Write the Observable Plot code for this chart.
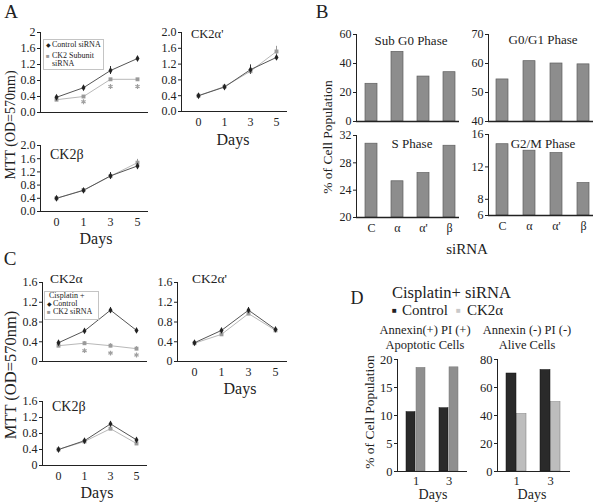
<!DOCTYPE html>
<html>
<head>
<meta charset="utf-8">
<script src="https://cdn.jsdelivr.net/npm/d3@7"></script>
<script src="https://cdn.jsdelivr.net/npm/@observablehq/plot@0.6"></script>
<style>
  html, body { margin: 0; padding: 0; background: #fff; }
  #root { position: relative; width: 600px; height: 504px; background: #fff; overflow: hidden; }
  .lbl { position: absolute; white-space: nowrap; font-family: "Liberation Serif", "Times New Roman", Times, serif; color: #222; line-height: 1; }
  .box { position: absolute; border: 1px solid #c4c4c4; }
</style>
</head>
<body>
<div id="root"></div>
<script>
// ---------- DATA ----------
const days = ["0", "1", "3", "5"];

// Panel A (MTT, siRNA alone)
const aAlphaCtrl     = [0.38, 0.62, 1.05, 1.35];
const aAlphaCtrlErr  = [0.02, 0.03, 0.10, 0.05];
const aAlphaSi       = [0.32, 0.40, 0.83, 0.83];
const aAlphaSiErr    = [0.02, 0.02, 0.02, 0.02];
const aAlphaStars    = [null, 0.27, 0.65, 0.65];
const aAlphaPCtrl    = [0.40, 0.62, 1.06, 1.37];
const aAlphaPCtrlErr = [0.02, 0.03, 0.12, 0.05];
const aAlphaPSi      = [0.40, 0.63, 1.02, 1.52];
const aAlphaPSiErr   = [0.02, 0.03, 0.06, 0.13];
const aBetaCtrl      = [0.40, 0.64, 1.08, 1.38];
const aBetaCtrlErr   = [0.02, 0.03, 0.10, 0.05];
const aBetaSi        = [0.40, 0.65, 1.07, 1.48];
const aBetaSiErr     = [0.02, 0.03, 0.10, 0.10];
const aTicks = [0, 0.4, 0.8, 1.2, 1.6, 2.0];

// Panel B (cell cycle phases)
const phases = ["C", "α", "α'", "β"];
const subG0  = [26, 48, 31, 34];
const g0g1   = [54.5, 60.8, 60.0, 59.7];
const sPhase = [30.8, 25.3, 26.5, 30.5];
const g2m    = [14.8, 14.0, 13.7, 10.0];

// Panel C (MTT, cisplatin + siRNA)
const cAlphaCtrl     = [0.38, 0.62, 1.04, 0.63];
const cAlphaCtrlErr  = [0.02, 0.03, 0.05, 0.03];
const cAlphaSi       = [0.32, 0.37, 0.32, 0.26];
const cAlphaSiErr    = [0.02, 0.03, 0.04, 0.04];
const cAlphaStars    = [null, 0.22, 0.17, 0.13];
const cAlphaPCtrl    = [0.38, 0.63, 1.04, 0.65];
const cAlphaPCtrlErr = [0.02, 0.03, 0.05, 0.03];
const cAlphaPSi      = [0.37, 0.55, 0.97, 0.63];
const cAlphaPSiErr   = [0.02, 0.03, 0.04, 0.03];
const cBetaCtrl      = [0.40, 0.62, 1.04, 0.64];
const cBetaCtrlErr   = [0.02, 0.04, 0.05, 0.03];
const cBetaSi        = [0.40, 0.60, 0.92, 0.55];
const cBetaSiErr     = [0.02, 0.03, 0.03, 0.03];
const cTicks = [0, 0.4, 0.8, 1.2, 1.6];

// Panel D (annexin / PI)
const dDays = ["1", "3"];
const apoptoticCtrl = [10.6, 11.3];
const apoptoticCK2  = [18.5, 18.6];
const aliveCtrl     = [70.0, 72.5];
const aliveCK2      = [41.0, 49.5];

// ---------- HELPERS ----------
const FONT = '"Liberation Serif", "Times New Roman", Times, serif';
const root = document.getElementById("root");

function svgStyle(size) {
  return { fontFamily: FONT, fontSize: size + "px", background: "transparent", overflow: "visible", color: "#222" };
}
function mount(svg, fr, m) {
  svg.style.position = "absolute";
  svg.style.left = (fr.x0 - m.l) + "px";
  svg.style.top = (fr.y0 - m.t) + "px";
  svg.style.maxWidth = "none";
  root.appendChild(svg);
}
function label(text, x, y, size, opt = {}) {
  const el = document.createElement("div");
  el.className = "lbl";
  el.textContent = text;
  el.style.fontSize = size + "px";
  el.style.left = x + "px";
  el.style.top = y + "px";
  if (opt.color) el.style.color = opt.color;
  if (opt.rotate) el.style.transform = "translate(-50%,-50%) rotate(-90deg)";
  else if (opt.anchor === "start") el.style.transform = "translate(0,-50%)";
  else el.style.transform = "translate(-50%,-50%)";
  root.appendChild(el);
}
function box(x, y, w, h) {
  const el = document.createElement("div");
  el.className = "box";
  Object.assign(el.style, { left: x + "px", top: y + "px", width: w + "px", height: h + "px" });
  root.appendChild(el);
}
const series = (vals, errs) => days.map((d, i) => ({ day: d, v: vals[i], e: errs ? errs[i] : 0 }));

function linePanel(cfg) {
  const { fr, ctrl, ctrlErr, si, siErr, stars, yMax, ticks, fmt, showX } = cfg;
  const m = { l: 30, r: 8, t: 8, b: 22 };
  const ctrlData = series(ctrl, ctrlErr);
  const siData = series(si, siErr);
  const starData = stars ? series(stars).filter(d => d.v != null) : [];
  const svg = Plot.plot({
    width: fr.x1 - fr.x0 + m.l + m.r,
    height: fr.y1 - fr.y0 + m.t + m.b,
    marginLeft: m.l, marginRight: m.r, marginTop: m.t, marginBottom: m.b,
    style: svgStyle(12),
    x: { type: "point", domain: days, padding: 0.5, align: 0.6, axis: showX ? "bottom" : null, tickSize: 0, tickPadding: 6, label: null },
    y: { domain: [0, yMax], ticks, tickFormat: fmt, tickSize: 3, tickPadding: 2, line: true, label: null },
    marks: [
      Plot.ruleY([0], { stroke: "#222" }),
      Plot.line(siData, { x: "day", y: "v", stroke: "#b8b8b8", strokeWidth: 1 }),
      Plot.line(ctrlData, { x: "day", y: "v", stroke: "#555", strokeWidth: 1 }),
      Plot.ruleX(siData, { x: "day", y1: d => d.v - d.e, y2: d => d.v + d.e, stroke: "#999" }),
      Plot.ruleX(ctrlData, { x: "day", y1: d => d.v - d.e, y2: d => d.v + d.e, stroke: "#333" }),
      Plot.dot(siData, { x: "day", y: "v", symbol: "square", fill: "#9a9a9a", r: 2.2 }),
      Plot.dot(ctrlData, { x: "day", y: "v", symbol: "diamond", fill: "#222", r: 2.1 }),
      Plot.dot(starData, { x: "day", y: "v", symbol: "asterisk", stroke: "#a0a0a0", r: 2.3, strokeWidth: 1.2 })
    ]
  });
  mount(svg, fr, m);
}

function phasePanel(fr, vals, yMin, yMax, ticks, showX) {
  const m = { l: 30, r: 8, t: 8, b: 22 };
  const data = phases.map((k, i) => ({ k, v: vals[i] }));
  const svg = Plot.plot({
    width: fr.x1 - fr.x0 + m.l + m.r,
    height: fr.y1 - fr.y0 + m.t + m.b,
    marginLeft: m.l, marginRight: m.r, marginTop: m.t, marginBottom: m.b,
    style: svgStyle(12),
    x: { type: "band", domain: phases, paddingInner: 0.55, paddingOuter: 0.2, align: 0.7, axis: showX ? "bottom" : null, tickSize: 0, tickPadding: 6, label: null },
    y: { domain: [yMin, yMax], ticks, tickSize: 3, tickPadding: 2, line: true, label: null },
    marks: [
      Plot.barY(data, { x: "k", y1: yMin, y2: "v", fill: "#8d8d8d", stroke: "#5e5e5e", strokeWidth: 0.7 }),
      Plot.ruleY([yMin], { stroke: "#222", strokeWidth: 1.4 })
    ]
  });
  mount(svg, fr, m);
}

function annexinPanel(fr, ctrl, ck2, yMax, ticks, ck2Color) {
  const m = { l: 30, r: 8, t: 8, b: 22 };
  const ctrlData = dDays.map((d, i) => ({ day: d, v: ctrl[i] }));
  const ck2Data = dDays.map((d, i) => ({ day: d, v: ck2[i] }));
  const svg = Plot.plot({
    width: fr.x1 - fr.x0 + m.l + m.r,
    height: fr.y1 - fr.y0 + m.t + m.b,
    marginLeft: m.l, marginRight: m.r, marginTop: m.t, marginBottom: m.b,
    style: svgStyle(12.5),
    x: { type: "band", domain: dDays, paddingInner: 0.41, paddingOuter: 0.25, tickSize: 0, tickPadding: 5, label: null },
    y: { domain: [0, yMax], ticks, tickSize: 3, tickPadding: 2, line: true, label: null },
    marks: [
      Plot.barY(ck2Data, { x: "day", y: "v", insetLeft: 10, fill: ck2Color, stroke: "#777", strokeWidth: 0.5 }),
      Plot.barY(ctrlData, { x: "day", y: "v", insetRight: 10, fill: "#2a2a2a", stroke: "#111", strokeWidth: 0.5 }),
      Plot.ruleY([0], { stroke: "#222" })
    ]
  });
  mount(svg, fr, m);
}

// ---------- PANEL A ----------
linePanel({ fr: { x0: 40, x1: 148, y0: 32, y1: 112 }, ctrl: aAlphaCtrl, ctrlErr: aAlphaCtrlErr, si: aAlphaSi, siErr: aAlphaSiErr,
  stars: aAlphaStars, yMax: 2, ticks: aTicks, fmt: d => d === 2 ? "2" : d.toFixed(1), showX: false });
linePanel({ fr: { x0: 181, x1: 287, y0: 32, y1: 111 }, ctrl: aAlphaPCtrl, ctrlErr: aAlphaPCtrlErr, si: aAlphaPSi, siErr: aAlphaPSiErr,
  yMax: 2, ticks: aTicks, fmt: d => d.toFixed(1), showX: true });
linePanel({ fr: { x0: 40, x1: 148, y0: 145, y1: 211 }, ctrl: aBetaCtrl, ctrlErr: aBetaCtrlErr, si: aBetaSi, siErr: aBetaSiErr,
  yMax: 2, ticks: aTicks, fmt: d => d.toFixed(1), showX: true });

label("A", 11, 11, 19);
label("MTT (OD=570nm)", 11, 125, 14, { rotate: true });
label("CK2α'", 191, 34, 12.5, { anchor: "start" });
label("CK2β", 50, 155, 14, { anchor: "start" });
label("Days", 233, 140, 16);
label("Days", 96, 239, 16);
box(43, 39, 59, 29);
label("◆", 46, 45, 6, { anchor: "start" });
label("Control siRNA", 52, 45, 8, { anchor: "start" });
label("■", 46, 56, 6, { anchor: "start", color: "#999" });
label("CK2 Subunit", 52, 56, 8, { anchor: "start" });
label("siRNA", 52, 64, 8, { anchor: "start" });

// ---------- PANEL B ----------
phasePanel({ x0: 356, x1: 459, y0: 34, y1: 121 }, subG0, 0, 60, [0, 20, 40, 60], false);
phasePanel({ x0: 488, x1: 593, y0: 34, y1: 121 }, g0g1, 40, 70, [40, 50, 60, 70], false);
phasePanel({ x0: 356, x1: 459, y0: 135, y1: 217 }, sPhase, 20, 32, [20, 24, 28, 32], true);
phasePanel({ x0: 488, x1: 593, y0: 134, y1: 215 }, g2m, 6, 16, [6, 8, 12, 16], true);

label("B", 322, 11, 19);
label("% of Cell Population", 328, 137, 13.5, { rotate: true });
label("Sub G0 Phase", 411, 40, 13);
label("G0/G1 Phase", 543, 39, 13);
label("S Phase", 412, 143, 13);
label("G2/M Phase", 543, 143, 13);
label("siRNA", 467, 249, 15);

// ---------- PANEL C ----------
linePanel({ fr: { x0: 42, x1: 147, y0: 282, y1: 361 }, ctrl: cAlphaCtrl, ctrlErr: cAlphaCtrlErr, si: cAlphaSi, siErr: cAlphaSiErr,
  stars: cAlphaStars, yMax: 1.6, ticks: cTicks, fmt: d => d === 0 ? "0" : d.toFixed(1), showX: false });
linePanel({ fr: { x0: 177, x1: 287, y0: 282, y1: 361 }, ctrl: cAlphaPCtrl, ctrlErr: cAlphaPCtrlErr, si: cAlphaPSi, siErr: cAlphaPSiErr,
  yMax: 1.6, ticks: cTicks, fmt: d => d === 0 ? "0" : d.toFixed(1), showX: true });
linePanel({ fr: { x0: 42, x1: 147, y0: 401, y1: 465 }, ctrl: cBetaCtrl, ctrlErr: cBetaCtrlErr, si: cBetaSi, siErr: cBetaSiErr,
  yMax: 1.6, ticks: cTicks, fmt: d => d === 0 ? "0" : d.toFixed(1), showX: true });

label("C", 10, 258, 19);
label("MTT (OD=570nm)", 11, 375, 16.5, { rotate: true });
label("CK2α", 50, 279, 13.5, { anchor: "start" });
label("CK2α'", 192, 279, 13.5, { anchor: "start" });
label("CK2β", 52, 407, 14, { anchor: "start" });
label("Days", 240, 389, 16);
label("Days", 97, 493, 16);
box(44, 291, 53, 27);
label("Cisplatin +", 49, 296, 8, { anchor: "start" });
label("◆", 47, 304, 6, { anchor: "start" });
label("Control", 53, 304, 8, { anchor: "start" });
label("■", 47, 312, 6, { anchor: "start", color: "#999" });
label("CK2 siRNA", 53, 312, 8, { anchor: "start" });

// ---------- PANEL D ----------
annexinPanel({ x0: 397, x1: 467, y0: 359, y1: 471 }, apoptoticCtrl, apoptoticCK2, 20, [0, 5, 10, 15, 20], "#8f8f8f");
annexinPanel({ x0: 497, x1: 570, y0: 359, y1: 471 }, aliveCtrl, aliveCK2, 80, [0, 20, 40, 60, 80], "#bdbdbd");

label("D", 357, 298, 18);
label("Cisplatin+ siRNA", 392, 293, 16.5, { anchor: "start" });
label("■", 392, 311, 8, { anchor: "start" });
label("Control", 402, 310, 15, { anchor: "start" });
label("■", 456, 311, 8, { anchor: "start", color: "#c8c8c8" });
label("CK2α", 467, 310, 15, { anchor: "start" });
label("Annexin(+)  PI (+)", 425, 330, 12.5);
label("Apoptotic Cells", 425, 344.5, 12.5);
label("Annexin (-)  PI (-)", 527, 330, 12.5);
label("Alive Cells", 527, 344.5, 12.5);
label("% of Cell Population", 370, 412, 13.5, { rotate: true });
label("Days", 433, 495, 14);
label("Days", 532, 495, 14);
</script>
</body>
</html>
